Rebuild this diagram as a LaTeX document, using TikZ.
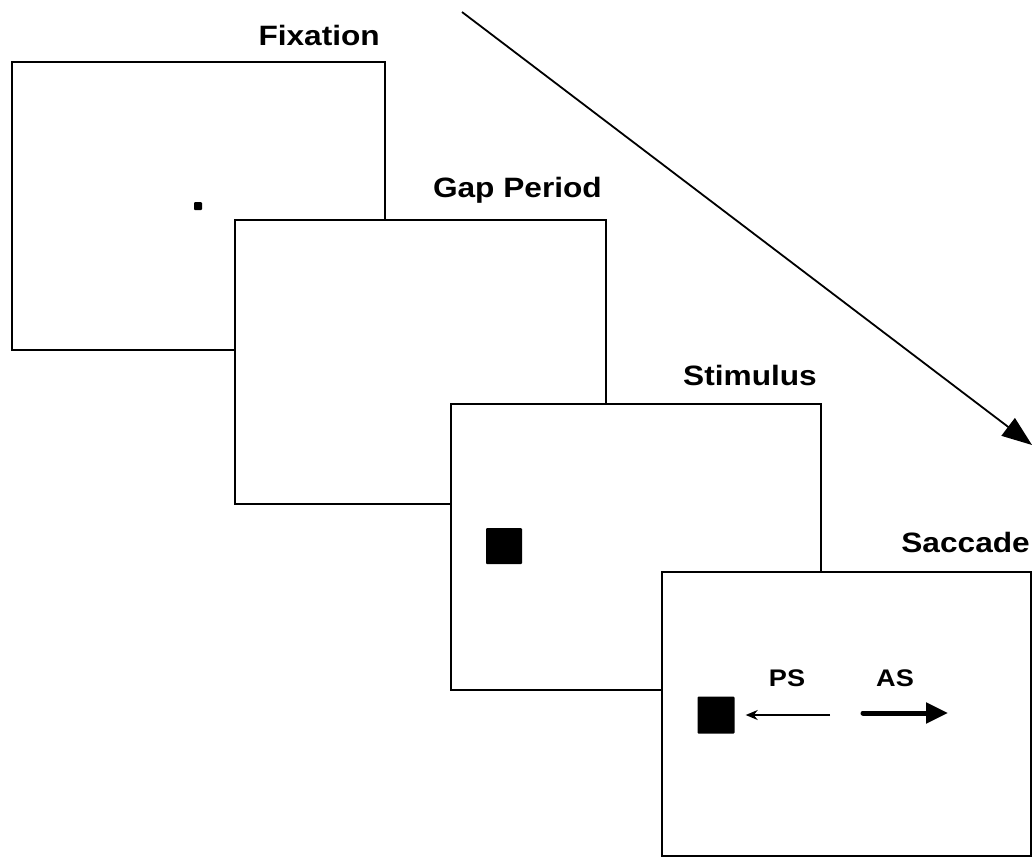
\documentclass[tikz,border=0pt]{standalone}
\usepackage{fontspec}
\setmainfont{Liberation Sans}
\newfontfamily\widefont[FakeStretch=1.13]{Liberation Sans}
\usetikzlibrary{arrows.meta}
\usetikzlibrary{calc}

\begin{document}
\begin{tikzpicture}[x=1pt,y=-1pt,
    screen/.style={draw, fill=white, line width=2pt, inner sep=0pt, anchor=north west},
    title/.style={anchor=base east, inner sep=0pt, font=\widefont\fontsize{28}{34}\selectfont\bfseries},
    tag/.style={inner sep=0pt, font=\widefont\fontsize{24}{28}\selectfont\bfseries},
    target/.style={fill=black, inner sep=0pt, rounded corners=1pt}]

        \useasboundingbox (0,0) rectangle (1034,857);

        %Screens
        \node[screen, minimum width=373pt, minimum height=288pt] (fix) at (11,61) {};
        \node[target, minimum size=8pt] (fixdot) at (198,206) {};
        \node[screen, minimum width=371pt, minimum height=284pt] (gap) at (234,219) {};
        \node[screen, minimum width=370pt, minimum height=286pt] (stim) at (450,403) {};
        \node[target, minimum size=36pt] (stimsq) at (504,546) {};
        \node[screen, minimum width=369pt, minimum height=284pt] (sac) at (661,571) {};
        \node[target, minimum size=37pt] (sacsq) at (716,715) {};

        %Titles
        \node[title] (fixlabel) at ([xshift=-6pt,yshift=16pt]fix.north east) {Fixation};
        \node[title] (gaplabel) at ([xshift=-5pt,yshift=22pt]gap.north east) {Gap Period};
        \node[title] (stimlabel) at ([xshift=-5pt,yshift=18pt]stim.north east) {Stimulus};
        \node[title] (saclabel) at ([xshift=-2pt,yshift=19pt]sac.north east) {Saccade};

        %Saccade arrows
        \node[tag] (ps) at (787,678) {PS};
        \node[tag] (as) at (895,678) {AS};
        \coordinate (psstart) at (830,715);
        \coordinate (asstart) at (863,713);
        \coordinate (asend) at (948,713);
        \draw[line width=1.5pt, -{Stealth[length=12pt,width=10pt]}] (psstart) -- ([xshift=11pt]sacsq.east);
        \draw[line width=5pt, line cap=round, -{Triangle[length=22pt,width=20pt]}] (asstart) -- (asend);

        %Time arrow
        \coordinate (tstart) at (462,12);
        \coordinate (tend) at (1032,445);
        \draw[line width=1.8pt, -{Triangle[length=30pt,width=22pt]}] (tstart) -- (tend);

    \end{tikzpicture}
\end{document}
